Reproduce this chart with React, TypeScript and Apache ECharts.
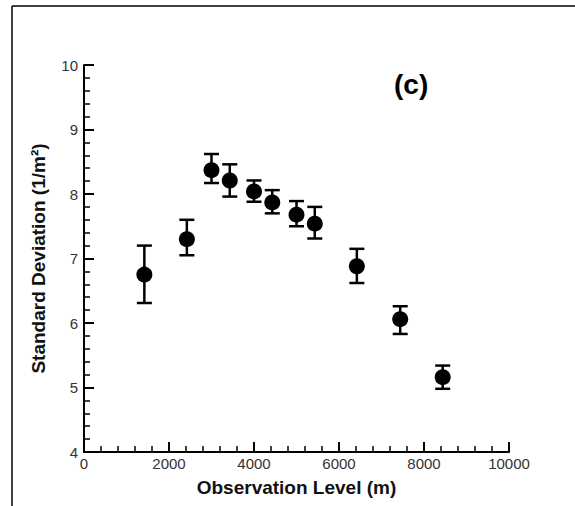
import React, { useEffect, useRef } from "react";
import * as echarts from "echarts";

const levels = [1420, 2420, 3000, 3430, 4000, 4430, 5000, 5430, 6420, 7440, 8440];
const stdDev = [6.75, 7.3, 8.37, 8.21, 8.04, 7.87, 7.68, 7.54, 6.88, 6.06, 5.16];
const errLow = [6.31, 7.05, 8.17, 7.96, 7.88, 7.7, 7.5, 7.31, 6.62, 5.83, 4.98];
const errHigh = [7.2, 7.6, 8.62, 8.46, 8.21, 8.06, 7.89, 7.8, 7.15, 6.26, 5.34];

export default function App() {
  const ref = useRef<HTMLDivElement>(null);
  useEffect(() => {
    document.body.style.margin = "0";
    const chart = echarts.init(ref.current!, null, { renderer: "svg" });
    const font = "'Liberation Sans', Arial, sans-serif";
    chart.setOption({
      animation: false,
      backgroundColor: "#fff",
      grid: { left: 84, right: 66, top: 65, bottom: 54 },
      xAxis: {
        type: "value",
        min: 0,
        max: 10000,
        interval: 2000,
        name: "Observation Level (m)",
        nameLocation: "middle",
        nameGap: 26,
        nameTextStyle: { fontFamily: font, fontWeight: "bold", fontSize: 19, color: "#111" },
        axisLine: { show: true, onZero: false, lineStyle: { color: "#000", width: 2 } },
        axisTick: { show: true, inside: true, length: 10, lineStyle: { color: "#000", width: 2 } },
        minorTick: { show: true, splitNumber: 5, length: 6, lineStyle: { color: "#000", width: 1.5 } },
        axisLabel: { fontFamily: font, fontSize: 15, color: "#333", margin: 4, formatter: (v: number) => String(v) },
        splitLine: { show: false },
      },
      yAxis: {
        type: "value",
        min: 4,
        max: 10,
        interval: 1,
        name: "Standard Deviation (1/m²)",
        nameLocation: "middle",
        nameGap: 36,
        nameTextStyle: { fontFamily: font, fontWeight: "bold", fontSize: 19, color: "#111" },
        axisLine: { show: true, onZero: false, lineStyle: { color: "#000", width: 2 } },
        axisTick: { show: true, inside: true, length: 10, lineStyle: { color: "#000", width: 2 } },
        minorTick: { show: true, splitNumber: 5, length: 6, lineStyle: { color: "#000", width: 1.5 } },
        axisLabel: { fontFamily: font, fontSize: 15, color: "#333", margin: 6, formatter: (v: number) => String(v) },
        splitLine: { show: false },
      },
      graphic: [
        { type: "line", shape: { x1: 12, y1: 6, x2: 12, y2: 506 }, style: { stroke: "#000", lineWidth: 1.5 } },
        { type: "line", shape: { x1: 12, y1: 6, x2: 575, y2: 6 }, style: { stroke: "#000", lineWidth: 1.5 } },
        {
          type: "text",
          left: 394,
          top: 70,
          style: { text: "(c)", fontFamily: font, fontWeight: "bold", fontSize: 28, fill: "#000" },
        },
      ],
      series: [
        {
          type: "custom",
          data: levels.map((x, i) => [x, errLow[i], errHigh[i]]),
          renderItem: (params: any, api: any) => {
            const x = api.value(0);
            const lo = api.coord([x, api.value(1)]);
            const hi = api.coord([x, api.value(2)]);
            const hw = 7.5;
            const st = { stroke: "#000", lineWidth: 2.5 };
            return {
              type: "group",
              children: [
                { type: "line", shape: { x1: lo[0], y1: lo[1], x2: hi[0], y2: hi[1] }, style: st },
                { type: "line", shape: { x1: lo[0] - hw, y1: lo[1], x2: lo[0] + hw, y2: lo[1] }, style: st },
                { type: "line", shape: { x1: hi[0] - hw, y1: hi[1], x2: hi[0] + hw, y2: hi[1] }, style: st },
              ],
            };
          },
          z: 2,
        },
        {
          type: "scatter",
          data: levels.map((x, i) => [x, stdDev[i]]),
          symbol: "circle",
          symbolSize: 16,
          itemStyle: { color: "#000", opacity: 1 },
          z: 3,
        },
      ],
    });
    return () => chart.dispose();
  }, []);
  return <div ref={ref} style={{ width: 575, height: 506 }} />;
}
